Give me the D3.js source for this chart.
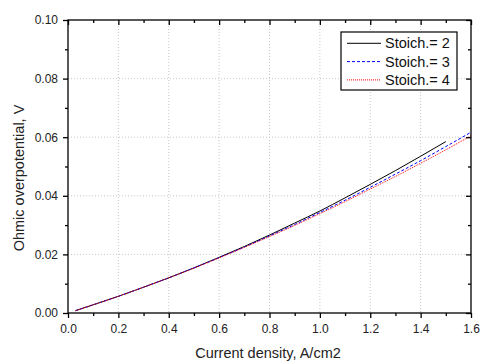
<!DOCTYPE html>
<html>
<head>
<meta charset="utf-8">
<script src="https://cdn.jsdelivr.net/npm/d3@7"></script>
<style>
  body { margin: 0; background: #fff; }
  svg { font-family: "Liberation Sans", Arial, sans-serif; }
</style>
</head>
<body>
<svg id="chart" width="485" height="362"></svg>
<script>

// values
let x2 = [0.03, 0.1, 0.2, 0.3, 0.4, 0.5, 0.6, 0.7, 0.8, 0.9, 1.0, 1.1, 1.2, 1.3, 1.4, 1.5],
    y2 = [0.0008, 0.0028, 0.0057, 0.0088, 0.0120, 0.0154, 0.0190, 0.0227, 0.0266, 0.0307, 0.0348, 0.0393, 0.0439, 0.0486, 0.0535, 0.0585];

let x3 = [0.03, 0.1, 0.2, 0.3, 0.4, 0.5, 0.6, 0.7, 0.8, 0.9, 1.0, 1.1, 1.2, 1.3, 1.4, 1.5, 1.6],
    y3 = [0.0008, 0.0028, 0.0057, 0.0088, 0.0120, 0.0154, 0.0189, 0.0225, 0.0263, 0.0302, 0.0343, 0.0385, 0.0429, 0.0474, 0.0520, 0.0568, 0.0617];

let x4 = [0.03, 0.1, 0.2, 0.3, 0.4, 0.5, 0.6, 0.7, 0.8, 0.9, 1.0, 1.1, 1.2, 1.3, 1.4, 1.5, 1.6],
    y4 = [0.0008, 0.0028, 0.0057, 0.0088, 0.0120, 0.0153, 0.0188, 0.0224, 0.0261, 0.0299, 0.0339, 0.0380, 0.0423, 0.0466, 0.0511, 0.0557, 0.0605];

let series_names = ['Stoich.= 2', 'Stoich.= 3', 'Stoich.= 4'];

let x_ticks = [0.0, 0.2, 0.4, 0.6, 0.8, 1.0, 1.2, 1.4, 1.6],
    x_minor = [0.1, 0.3, 0.5, 0.7, 0.9, 1.1, 1.3, 1.5],
    y_ticks = [0.00, 0.02, 0.04, 0.06, 0.08, 0.10],
    y_minor = [0.01, 0.03, 0.05, 0.07, 0.09];


let svg = d3.select('#chart'),
    p_left = 68,
    p_right = 471,
    p_top = 20,
    p_bottom = 313;

let x = d3.scaleLinear().domain([0, 1.6]).range([p_left, p_right]),
    y = d3.scaleLinear().domain([0, 0.1]).range([p_bottom, p_top]);

let styles = [
    { color: '#000000', dash: null },
    { color: '#0000ff', dash: '3,2' },
    { color: '#ff0000', dash: '1,1' }
];

let series = [
    d3.zip(x2, y2),
    d3.zip(x3, y3),
    d3.zip(x4, y4)
];

// grid
let grid = svg.append('g')
    .attr('stroke', '#c8c8c8')
    .attr('stroke-width', 1)
    .attr('stroke-dasharray', '1,2');

grid.selectAll('.gx')
    .data(x_ticks.slice(1, -1))
    .enter()
    .append('line')
    .attr('x1', d => x(d))
    .attr('x2', d => x(d))
    .attr('y1', p_top)
    .attr('y2', p_bottom);

grid.selectAll('.gy')
    .data(y_ticks.slice(1, -1))
    .enter()
    .append('line')
    .attr('x1', p_left)
    .attr('x2', p_right)
    .attr('y1', d => y(d))
    .attr('y2', d => y(d));

// curves
let line = d3.line()
    .x(d => x(d[0]))
    .y(d => y(d[1]))
    .curve(d3.curveMonotoneX);

svg.selectAll('.curve')
    .data(series)
    .enter()
    .append('path')
    .attr('class', 'curve')
    .attr('d', line)
    .attr('fill', 'none')
    .attr('stroke', (d, i) => styles[i].color)
    .attr('stroke-width', 1)
    .attr('stroke-dasharray', (d, i) => styles[i].dash);

// axes
function style_axis (g) {
    g.select('.domain').remove();
    g.selectAll('line').attr('stroke', '#000').attr('stroke-width', 1.3);
    g.selectAll('text')
        .attr('fill', '#222')
        .style('font-size', '12px')
        .style('font-family', '"Liberation Sans", Arial, sans-serif');
}

svg.append('g')
    .attr('transform', 'translate(0,' + p_bottom + ')')
    .call(d3.axisBottom(x).tickValues(x_ticks).tickFormat(d3.format('.1f')).tickSize(5).tickPadding(6))
    .call(style_axis);

svg.append('g')
    .attr('transform', 'translate(0,' + p_bottom + ')')
    .call(d3.axisBottom(x).tickValues(x_minor).tickFormat('').tickSize(3))
    .call(style_axis);

svg.append('g')
    .attr('transform', 'translate(' + p_left + ',0)')
    .call(d3.axisLeft(y).tickValues(y_ticks).tickFormat(d3.format('.2f')).tickSize(5).tickPadding(5))
    .call(style_axis);

svg.append('g')
    .attr('transform', 'translate(' + p_left + ',0)')
    .call(d3.axisLeft(y).tickValues(y_minor).tickFormat('').tickSize(3))
    .call(style_axis);

// mirror ticks, inward
svg.append('g')
    .attr('transform', 'translate(0,' + p_top + ')')
    .call(d3.axisBottom(x).tickValues(x_ticks).tickFormat('').tickSize(5))
    .call(style_axis);

svg.append('g')
    .attr('transform', 'translate(0,' + p_top + ')')
    .call(d3.axisBottom(x).tickValues(x_minor).tickFormat('').tickSize(3))
    .call(style_axis);

svg.append('g')
    .attr('transform', 'translate(' + p_right + ',0)')
    .call(d3.axisLeft(y).tickValues(y_ticks).tickFormat('').tickSize(5))
    .call(style_axis);

svg.append('g')
    .attr('transform', 'translate(' + p_right + ',0)')
    .call(d3.axisLeft(y).tickValues(y_minor).tickFormat('').tickSize(3))
    .call(style_axis);

// frame
svg.append('rect')
    .attr('x', p_left)
    .attr('y', p_top)
    .attr('width', p_right - p_left)
    .attr('height', p_bottom - p_top)
    .attr('fill', 'none')
    .attr('stroke', '#000')
    .attr('stroke-width', 1.3);

// axis titles
svg.append('text')
    .attr('x', 268)
    .attr('y', 357.5)
    .attr('text-anchor', 'middle')
    .attr('fill', '#222')
    .style('font-size', '14.5px')
    .text('Current density, A/cm2');

svg.append('text')
    .attr('transform', 'translate(23.5,178) rotate(-90)')
    .attr('text-anchor', 'middle')
    .attr('fill', '#222')
    .style('font-size', '14.5px')
    .text('Ohmic overpotential, V');

// legend
let legend = svg.append('g')
    .attr('transform', 'translate(341,32)');

legend.append('rect')
    .attr('width', 116)
    .attr('height', 58)
    .attr('fill', '#fff')
    .attr('stroke', '#000')
    .attr('stroke-width', 1.2);

let item = legend.selectAll('.item')
    .data(series_names)
    .enter()
    .append('g')
    .attr('transform', (d, i) => 'translate(0,' + (11.3 + i * 18.3) + ')');

item.append('line')
    .attr('x1', 6)
    .attr('x2', 40)
    .attr('stroke', (d, i) => styles[i].color)
    .attr('stroke-width', 1)
    .attr('stroke-dasharray', (d, i) => styles[i].dash);

item.append('text')
    .attr('x', 44)
    .attr('dy', '0.35em')
    .attr('fill', '#111')
    .style('font-size', '14.5px')
    .text(d => d);

</script>
</body>
</html>
